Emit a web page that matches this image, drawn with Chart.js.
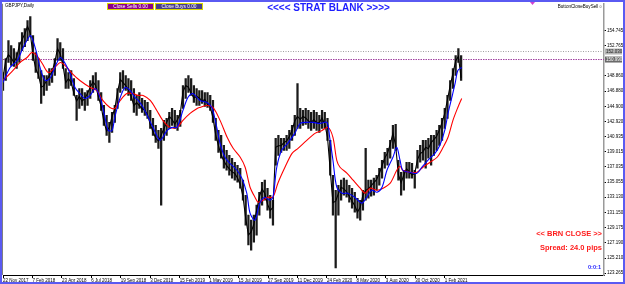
<!DOCTYPE html>
<html><head><meta charset="utf-8">
<script src="https://cdn.jsdelivr.net/npm/chart.js@4.4.1/dist/chart.umd.min.js"></script>
<style>html,body{margin:0;padding:0;background:#fff;overflow:hidden}canvas{display:block}</style>
</head><body>
<canvas id="c" width="625" height="284"></canvas>
<script>
// ---- data (GBPJPY, Daily) ----
const barsPerWeek = 5;
const weeklyHigh = [
149.31,151.12,153.45,152.80,152.41,151.90,153.19,154.49,155.00,156.04,
156.56,154.10,151.90,151.12,149.56,148.92,148.92,149.82,149.82,151.12,
153.71,153.19,152.41,149.82,149.31,149.56,148.53,146.33,147.23,147.23,
146.71,146.97,148.27,148.92,149.31,148.27,146.71,145.03,143.74,142.83,
144.12,145.03,147.23,149.31,149.56,148.92,148.53,148.27,147.23,146.33,
146.71,145.94,145.68,145.42,144.38,143.35,142.44,141.79,142.05,143.09,
143.35,144.12,144.64,144.38,143.74,144.38,147.62,148.53,148.92,148.53,
147.62,147.23,146.97,146.97,146.71,146.71,146.33,145.68,143.35,141.79,
141.14,139.85,139.20,138.55,138.17,137.65,137.26,136.87,135.32,133.37,
130.78,130.13,130.78,132.08,133.76,135.06,135.32,134.28,133.37,132.72,
140.76,141.14,140.76,140.76,141.14,141.79,142.44,143.74,147.88,144.64,
144.38,144.64,144.38,144.12,144.38,144.12,143.74,144.38,144.12,143.35,
140.50,135.96,134.02,134.67,135.32,135.58,135.32,134.67,134.28,133.76,
132.98,132.72,134.02,139.46,135.32,135.32,135.58,135.96,136.87,137.91,
138.94,139.46,140.50,142.44,142.57,137.91,136.35,136.61,137.65,137.65,
137.52,136.61,139.20,139.85,140.50,140.50,140.76,141.14,141.14,141.79,
142.44,143.35,144.64,146.33,148.27,149.82,151.51,152.41,151.51];
const weeklyLow = [
146.97,148.27,150.60,150.21,150.08,149.82,150.60,152.15,152.67,153.45,
154.10,150.86,149.31,148.53,145.29,146.33,146.97,147.62,148.01,148.92,
150.86,150.86,149.82,147.23,147.23,147.62,146.33,143.09,144.64,145.03,
144.38,145.03,145.94,146.71,147.23,145.68,144.38,142.44,141.14,140.24,
141.53,142.83,144.64,146.71,147.23,146.97,146.33,145.68,144.12,143.74,
144.64,144.12,143.74,143.35,142.05,141.14,140.24,139.46,132.08,140.50,
141.14,142.05,142.44,142.05,141.79,142.31,144.64,145.94,146.71,146.33,
145.42,145.03,145.03,145.29,144.90,144.77,144.38,142.83,140.50,138.94,
138.17,136.87,136.61,135.96,135.58,135.32,135.06,134.28,132.72,129.49,
126.90,126.25,127.28,128.19,130.78,132.08,132.72,131.43,130.39,129.49,
137.26,138.55,138.94,139.20,139.20,139.46,140.50,141.14,142.05,142.05,
142.44,142.57,142.05,141.79,142.05,141.79,141.53,142.05,142.05,140.50,
135.96,130.78,123.92,130.78,132.72,133.37,133.11,132.47,131.69,131.17,
130.39,130.13,131.43,132.72,132.98,133.24,133.37,134.02,134.67,135.58,
136.87,137.26,138.17,139.46,139.20,135.32,133.37,134.02,135.58,135.58,
135.58,134.28,136.87,137.65,137.91,136.87,138.17,137.26,138.55,139.20,
139.85,140.50,142.05,143.35,145.68,147.23,148.92,150.60,148.27];
const weeklyClose = [
148.6,150.9,151.6,151.2,150.6,151.3,152.8,153.6,154.3,155.3,
154.4,151.5,149.8,149.0,147.4,147.6,148.3,148.9,149.4,150.7,
152.4,151.7,150.2,148.0,148.5,148.0,146.6,145.6,146.2,145.6,
145.9,146.6,147.4,148.1,147.6,146.1,144.9,142.9,141.7,142.2,
143.6,144.6,146.8,148.4,148.0,147.6,147.0,146.2,145.0,145.4,
145.0,144.6,144.4,143.8,142.6,141.6,140.8,140.4,141.2,142.0,
142.8,143.6,143.2,142.6,143.2,144.0,146.8,147.6,147.4,146.6,
146.0,146.2,146.0,145.6,145.8,145.2,144.8,143.4,141.2,139.8,
138.6,137.8,137.2,136.8,136.4,136.2,135.6,134.8,133.2,130.4,
128.2,128.6,129.6,131.4,133.2,134.2,133.6,132.2,131.4,131.8,
139.6,139.8,139.8,140.2,140.4,141.0,141.8,143.0,143.6,143.2,
143.6,143.4,143.0,142.8,143.2,142.8,142.8,143.4,142.6,140.9,
136.6,132.4,132.6,133.6,134.4,134.2,133.8,133.2,132.6,132.0,
131.2,131.8,133.4,134.0,134.2,134.6,135.0,135.4,136.2,137.2,
138.2,138.8,140.0,141.4,139.8,136.0,135.0,136.0,136.8,136.4,
136.0,136.2,138.0,138.8,139.0,139.6,139.4,140.2,140.6,141.0,
141.8,142.8,144.0,145.8,147.6,149.2,150.8,151.4,148.6];

const fastMaBar = [0,13,26,37,50,55,62,68,77,86,95,105,114,123,132,141,150,160,169,178,187,193,200,205,215,224,233,242,248,257,266,275,288,301,310,319,330,339,348,361,374,383,392,398,407,416,429,438,447,453,462,471,480,489,495,502,511,522,535,545,557,568,581,594,599,605,612,622,632,645,658,667,676,686,695,704,715,722,728,733,746,759,768,779,792,801,810,816,823,829,834,841];
const fastMaVal = [148.01,149.95,150.86,152.54,154.10,153.45,151.77,149.95,148.27,148.53,149.95,151.25,150.47,149.17,147.36,146.58,145.94,146.33,147.23,146.07,143.48,141.79,141.79,143.48,146.07,147.36,146.97,146.07,145.68,144.77,143.48,142.18,140.50,141.79,142.18,142.18,144.38,146.07,146.58,145.68,145.42,144.77,142.18,140.11,138.30,137.52,136.61,135.58,133.63,131.04,130.13,132.34,133.11,132.72,133.11,137.00,139.20,140.11,141.40,142.70,142.83,142.83,142.70,142.83,140.89,137.91,134.41,133.63,133.63,133.11,132.34,133.11,134.02,133.76,134.41,136.61,138.30,139.59,137.91,136.61,136.35,136.22,137.00,137.91,138.81,139.85,141.79,143.99,146.07,147.88,149.56,149.95];

const slowMaBar = [0,18,31,44,53,62,72,83,95,105,114,127,141,160,172,183,196,205,215,227,238,248,257,270,282,293,306,319,330,343,356,361,374,385,398,411,422,435,444,453,462,468,477,486,495,504,517,530,541,557,572,585,596,605,612,618,631,642,655,664,673,686,697,710,722,728,733,746,759,770,783,796,807,816,825,834,841];
const slowMaVal = [148.27,149.56,150.60,151.25,151.90,151.51,150.47,149.31,149.95,150.60,150.21,149.17,148.27,147.36,146.97,145.68,144.77,144.64,145.68,146.58,146.58,146.33,146.33,145.68,144.38,143.09,142.18,142.18,143.09,143.99,144.64,144.77,145.03,144.77,143.09,140.89,139.46,138.30,137.00,134.41,133.11,132.47,132.72,133.11,133.11,134.93,137.00,138.81,139.46,140.50,141.40,141.79,142.18,140.89,137.91,137.00,136.22,135.32,134.28,133.63,134.28,134.02,134.28,134.93,136.61,137.13,136.61,136.35,136.35,137.00,137.65,138.30,139.59,140.89,143.09,144.77,145.94];

const levelValues = [152.03, 150.99];
const levelLabels = ['152.030', '150.990'];

const xTickBars = [0,54,108,162,216,270,324,378,432,486,540,594,648,702,756,810];
const xTickLabels = ['22 Nov 2017','7 Feb 2018','23 Apr 2018','6 Jul 2018','19 Sep 2018','3 Dec 2018','15 Feb 2019','1 May 2019','15 Jul 2019','27 Sep 2019','11 Dec 2019','24 Feb 2020','8 May 2020','3 Aug 2020','30 Oct 2020','1 Feb 2021'];
const yTickValues = [154.745,152.765,148.860,146.880,144.900,142.920,140.935,139.015,137.035,135.055,133.130,131.150,129.175,127.190,125.210,123.265];
const yTickLabels = ['154.745','152.765','148.860','146.880','144.900','142.920','140.935','139.015','137.035','135.055','133.130','131.150','129.175','127.190','125.210','123.265'];

const X_MAX = 1102, Y_MIN = 123.01, Y_MAX = 158.24;
const FONT = 'Liberation Sans';

const priceBars = weeklyHigh.map((h, i) => ({x: i * barsPerWeek, y: [weeklyLow[i], h]}));
const closeLine = weeklyClose.map((c, i) => ({x: i * barsPerWeek, y: c}));
const fastMa = fastMaBar.map((b, i) => ({x: b, y: fastMaVal[i]}));
const slowMa = slowMaBar.map((b, i) => ({x: b, y: slowMaVal[i]}));
const levelLine = v => [{x: 0, y: v}, {x: X_MAX, y: v}];

const decor = {
  id: 'decor',
  beforeDraw(chart) {
    const ctx = chart.ctx;
    ctx.save(); ctx.fillStyle = '#fff'; ctx.fillRect(0, 0, chart.width, chart.height); ctx.restore();
  },
  afterDraw(chart) {
    const ctx = chart.ctx, ca = chart.chartArea, ys = chart.scales.y;
    ctx.save();
    ctx.strokeStyle = '#808080'; ctx.lineWidth = 1;
    ctx.beginPath(); ctx.moveTo(ca.left - 0.5, ca.top); ctx.lineTo(ca.left - 0.5, ca.bottom); ctx.stroke();
    levelValues.forEach((v, i) => {
      const py = ys.getPixelForValue(v);
      ctx.fillStyle = i === 0 ? '#b4b4b4' : '#6a6a6a';
      ctx.fillRect(ca.right + 1, py - 3, 17, 6);
      ctx.fillStyle = i === 0 ? '#222' : '#fff';
      ctx.font = '4.5px "' + FONT + '"'; ctx.textAlign = 'left'; ctx.textBaseline = 'middle';
      ctx.fillText(levelLabels[i], ca.right + 2, py + 0.3);
    });
    ctx.fillStyle = '#000'; ctx.font = '4.6px "' + FONT + '"'; ctx.textAlign = 'left'; ctx.textBaseline = 'middle';
    ctx.fillText('GBPJPY,Daily', 5, 6);
    ctx.textAlign = 'right';
    ctx.fillText('ButtonCloseBuySell\u263A', 603, 6.5);
    const btn = (x, w, bg, label) => {
      ctx.fillStyle = bg; ctx.fillRect(x, 3, w, 7);
      ctx.strokeStyle = '#d8d800'; ctx.lineWidth = 1; ctx.strokeRect(x + 0.5, 3.5, w - 1, 6);
      ctx.fillStyle = '#fff'; ctx.font = '4.8px "' + FONT + '"'; ctx.textAlign = 'center'; ctx.textBaseline = 'middle';
      ctx.fillText(label, x + w / 2, 6.7);
    };
    btn(107, 47, '#8b008b', 'Close Sells 0.00');
    btn(155, 48, '#483d8b', 'Close Buys 0.00');
    ctx.fillStyle = '#1e1eff'; ctx.font = 'bold 10px "' + FONT + '"'; ctx.textAlign = 'center'; ctx.textBaseline = 'middle';
    ctx.fillText('<<<< STRAT BLANK >>>>', 328.5, 8.5);
    ctx.fillStyle = '#d040d0';
    ctx.beginPath(); ctx.moveTo(530, 2); ctx.lineTo(535, 2); ctx.lineTo(532.5, 5); ctx.closePath(); ctx.fill();
    ctx.textAlign = 'right';
    ctx.fillStyle = '#ff1a1a'; ctx.font = 'bold 7.5px "' + FONT + '"';
    ctx.fillText('<< BRN CLOSE >>', 602, 233.5);
    ctx.fillText('Spread: 24.0 pips', 602, 247.8);
    ctx.fillStyle = '#2a2aff'; ctx.font = 'bold 5.6px "' + FONT + '"';
    ctx.fillText('0:0:1', 601, 267.5);
    ctx.strokeStyle = '#5a5af2'; ctx.lineWidth = 2;
    ctx.strokeRect(1, 1, chart.width - 2, chart.height - 2);
    ctx.restore();
  }
};

new Chart(document.getElementById('c'), {
  type: 'bar',
  data: {
    datasets: [
      {type: 'line', data: fastMa, borderColor: '#0000ff', borderWidth: 1.1, pointRadius: 0, tension: 0.3, order: 0},
      {type: 'line', data: slowMa, borderColor: '#ff0000', borderWidth: 1.1, pointRadius: 0, tension: 0.3, order: 1},
      {type: 'line', data: closeLine, borderColor: '#000', borderWidth: 1.1, pointRadius: 0, tension: 0, order: 2},
      {type: 'line', data: levelLine(levelValues[0]), borderColor: '#a0a0a0', borderWidth: 1, borderDash: [1, 1.5], pointRadius: 0, order: 4},
      {type: 'line', data: levelLine(levelValues[1]), borderColor: '#a040a0', borderWidth: 1, borderDash: [1.5, 1], pointRadius: 0, order: 4},
      {type: 'bar', data: priceBars, backgroundColor: '#1a1a1a', borderWidth: 0, barThickness: 1.6, order: 3}
    ]
  },
  options: {
    responsive: false, animation: false, devicePixelRatio: 1,
    layout: {padding: {left: 3, top: 3, right: 0, bottom: 0}},
    plugins: {legend: {display: false}, tooltip: {enabled: false}},
    scales: {
      x: {
        type: 'linear', min: 0, max: X_MAX, position: 'bottom', offset: false,
        grid: {drawOnChartArea: false, drawTicks: true, tickLength: 3, color: '#000', offset: false},
        border: {display: true, color: '#000', width: 1},
        afterBuildTicks: s => { s.ticks = xTickBars.map(v => ({value: v})); },
        afterFit: s => { s.height = 9; s.paddingLeft = 0; s.paddingRight = 0; },
        ticks: {autoSkip: false, maxRotation: 0, align: 'start', padding: 0, color: '#000',
          font: {family: FONT, size: 4.5},
          callback: (v, i) => xTickLabels[i]}
      },
      y: {
        position: 'right', min: Y_MIN, max: Y_MAX,
        grid: {drawOnChartArea: false, drawTicks: true, tickLength: 2, color: '#000'},
        border: {display: true, color: '#9a9a9a', width: 1.5},
        afterBuildTicks: s => { s.ticks = yTickValues.map(v => ({value: v})); },
        afterFit: s => { s.width = 21; },
        ticks: {padding: 1, color: '#000', font: {family: FONT, size: 4.5},
          callback: (v, i) => yTickLabels[i]}
      }
    }
  },
  plugins: [decor]
});
</script>
</body></html>
